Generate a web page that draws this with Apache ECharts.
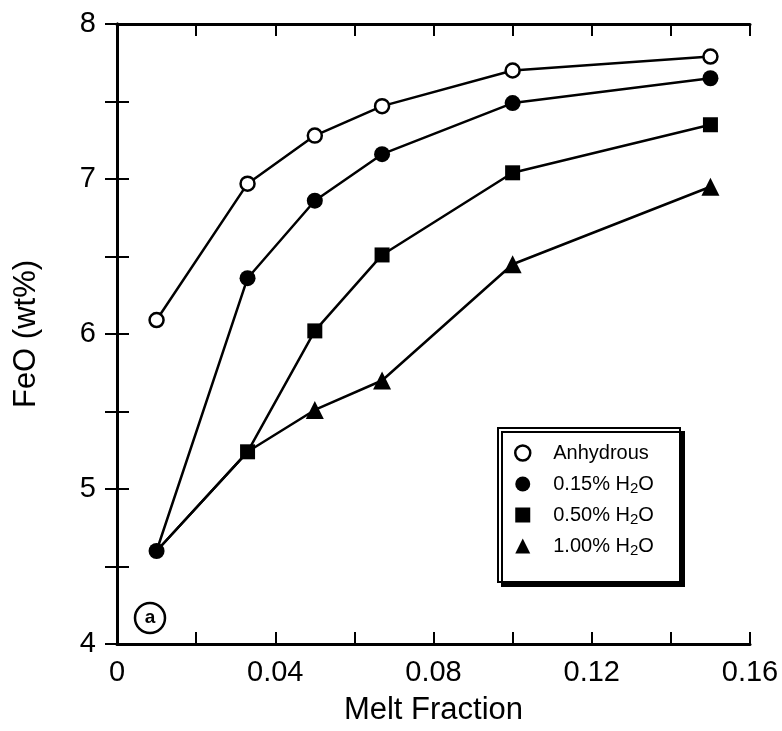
<!DOCTYPE html>
<html>
<head>
<meta charset="utf-8">
<script src="https://cdn.jsdelivr.net/npm/echarts@6/dist/echarts.min.js"></script>
<style>
  html, body { margin: 0; padding: 0; background: #fff; }
  #chart { width: 782px; height: 731px; }
</style>
</head>
<body>
<div id="chart"></div>
<script>
// Melt fraction (x) and FeO wt% (y) for each water content
const meltFraction = [0.01, 0.033, 0.05, 0.067, 0.10, 0.15];
const feoAnhydrous = [6.09, 6.97, 7.28, 7.47, 7.70, 7.79];
const feoH2O015 = [4.60, 6.36, 6.86, 7.16, 7.49, 7.65];
const feoH2O050 = [4.60, 5.24, 6.02, 6.51, 7.04, 7.35];
const feoH2O100 = [4.60, 5.24, 5.51, 5.70, 6.45, 6.95];
// Points whose marker is already drawn by another series
const hiddenH2O050 = [0];
const hiddenH2O100 = [0, 1];

const seriesNames = ['Anhydrous', '0.15% H2O', '0.50% H2O', '1.00% H2O'];
const xTicks = [0, 0.04, 0.08, 0.12, 0.16];
const yTicks = [4, 5, 6, 7, 8];

const FONT = '"Liberation Sans", Arial, Helvetica, sans-serif';
const INK = '#000';

function pairs(ys, hidden) {
  return meltFraction.map((x, i) => {
    const item = { value: [x, ys[i]] };
    if (hidden && hidden.includes(i)) item.symbol = 'none';
    return item;
  });
}

function lineSeries(name, ys, symbol, size, fill, hidden, z) {
  return {
    name: name,
    type: 'line',
    data: pairs(ys, hidden),
    symbol: symbol,
    symbolSize: size,
    showAllSymbol: true,
    z: z,
    lineStyle: { color: INK, width: 2.5 },
    itemStyle: { color: fill, borderColor: INK, borderWidth: fill === '#fff' ? 2.5 : 0, opacity: 1 },
    emphasis: { disabled: true },
    animation: false
  };
}

const chart = echarts.init(document.getElementById('chart'), null, { renderer: 'canvas' });

const axisLineStyle = { show: true, lineStyle: { color: INK, width: 3 } };
const tickStyle = { show: true, inside: true, length: 12, lineStyle: { color: INK, width: 2 } };
const minorStyle = { show: true, splitNumber: 2, length: 12, lineStyle: { color: INK, width: 2 } };

const legendIcons = [
  { icon: 'circle', itemStyle: { color: '#fff', borderColor: INK, borderWidth: 2.5 } },
  { icon: 'circle', itemStyle: { color: INK, borderWidth: 0 } },
  { icon: 'rect', itemStyle: { color: INK, borderWidth: 0 } },
  { icon: 'triangle', itemStyle: { color: INK, borderWidth: 0 } }
];

const option = {
  backgroundColor: '#fff',
  animation: false,
  grid: { left: 117, right: 32, top: 24, bottom: 83, containLabel: false },
  legend: {
    orient: 'vertical',
    left: 514,
    top: 441,
    z: 20,
    data: seriesNames.map((n, i) => Object.assign({ name: n }, legendIcons[i])),
    backgroundColor: 'transparent',
    borderWidth: 0,
    padding: 0,
    itemGap: 6,
    itemWidth: 15,
    itemHeight: 15,
    selectedMode: false,
    formatter: function (name) {
      return name.replace('H2O', 'H{sub|2}O');
    },
    textStyle: {
      fontFamily: FONT,
      fontSize: 20,
      lineHeight: 24,
      color: INK,
      padding: [0, 0, 0, 18],
      rich: {
        sub: { fontFamily: FONT, fontSize: 15, color: INK, verticalAlign: 'bottom', lineHeight: 24, padding: [10, 0, 0, 0] }
      }
    }
  },
  xAxis: [
    {
      type: 'value',
      min: 0, max: 0.16, interval: 0.04,
      position: 'bottom',
      axisLine: axisLineStyle,
      axisTick: tickStyle,
      minorTick: minorStyle,
      splitLine: { show: false },
      axisLabel: {
        color: INK, fontFamily: FONT, fontSize: 29, margin: 14,
        formatter: v => { const t = xTicks.find(k => Math.abs(k - v) < 1e-9); return t === undefined ? '' : String(t); }
      },
      name: 'Melt Fraction',
      nameLocation: 'middle',
      nameGap: 51,
      nameTextStyle: { color: INK, fontFamily: FONT, fontSize: 31 }
    },
    {
      type: 'value',
      min: 0, max: 0.16, interval: 0.04,
      position: 'top',
      axisLine: axisLineStyle,
      axisTick: tickStyle,
      minorTick: minorStyle,
      splitLine: { show: false },
      axisLabel: { show: false }
    }
  ],
  yAxis: [
    {
      type: 'value',
      min: 4, max: 8, interval: 1,
      position: 'left',
      axisLine: axisLineStyle,
      axisTick: tickStyle,
      minorTick: minorStyle,
      splitLine: { show: false },
      axisLabel: {
        color: INK, fontFamily: FONT, fontSize: 29, margin: 21,
        formatter: v => { const t = yTicks.find(k => Math.abs(k - v) < 1e-9); return t === undefined ? '' : String(t); }
      },
      name: 'FeO (wt%)',
      nameLocation: 'middle',
      nameGap: 75,
      nameTextStyle: { color: INK, fontFamily: FONT, fontSize: 31 }
    },
    {
      type: 'value',
      min: 4, max: 8, interval: 1,
      position: 'right',
      axisLine: axisLineStyle,
      axisTick: tickStyle,
      minorTick: minorStyle,
      splitLine: { show: false },
      axisLabel: { show: false }
    }
  ],
  graphic: [
    // legend frame with a solid drop shadow
    {
      type: 'rect',
      shape: { x: 498, y: 428, width: 182, height: 154 },
      style: { fill: '#fff', stroke: INK, lineWidth: 2, shadowColor: INK, shadowBlur: 0, shadowOffsetX: 4, shadowOffsetY: 4 },
      z: 10
    },
    {
      type: 'circle',
      shape: { cx: 150, cy: 618, r: 15 },
      style: { fill: '#fff', stroke: INK, lineWidth: 2.5 },
      z: 50
    },
    {
      type: 'text',
      x: 150, y: 618,
      style: { text: 'a', fill: INK, font: 'bold 19px ' + FONT, align: 'center', verticalAlign: 'middle' },
      z: 51
    }
  ],
  series: [
    lineSeries(seriesNames[3], feoH2O100, 'triangle', 18, INK, hiddenH2O100, 2),
    lineSeries(seriesNames[2], feoH2O050, 'rect', 15, INK, hiddenH2O050, 3),
    lineSeries(seriesNames[1], feoH2O015, 'circle', 16, INK, null, 4),
    lineSeries(seriesNames[0], feoAnhydrous, 'circle', 14, '#fff', null, 5)
  ]
};

chart.setOption(option);
</script>
</body>
</html>
